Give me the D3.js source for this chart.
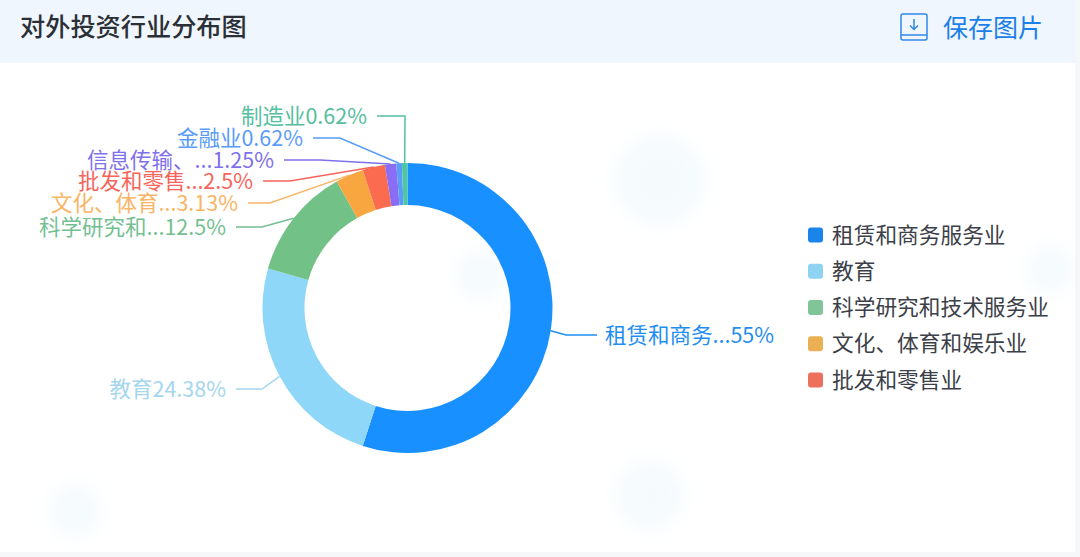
<!DOCTYPE html>
<html>
<head>
<meta charset="utf-8">
<script src="https://cdn.jsdelivr.net/npm/d3@7"></script>
<style>
  html, body { margin: 0; padding: 0; background: #fff; }
  svg { display: block; font-family: "Noto Sans CJK SC", "Noto Sans", sans-serif; }
</style>
</head>
<body>
<svg width="1080" height="557"></svg>
<script>
let categories = ["租赁和商务服务业", "教育", "科学研究和技术服务业", "文化、体育和娱乐业", "批发和零售业", "信息传输、软件和信息技术服务业", "金融业", "制造业"];
let shortNames = ["租赁和商务...", "教育", "科学研究和...", "文化、体育...", "批发和零售...", "信息传输、...", "金融业", "制造业"];
let values = [55, 24.38, 12.5, 3.13, 2.5, 1.25, 0.62, 0.62];
let valueLabels = ["55%", "24.38%", "12.5%", "3.13%", "2.5%", "1.25%", "0.62%", "0.62%"];
let legendNames = categories.slice(0, 5);

let colors = ["#1890ff", "#8fd7f8", "#72c287", "#f8a63f", "#fb6b50", "#8a6df5", "#5a9cf8", "#4fc8a2"];
let labelColors = ["#1f8ef0", "#a5d6ee", "#74bf92", "#f8b565", "#f7645a", "#7f70ec", "#5a9cf8", "#55bfa0"];
let legendColors = ["#1a84ea", "#8fd3f2", "#80c498", "#ecb054", "#ec705c"];

// where each leader line bends and ends, then the label next to it
let leaders = [
  { elbow: [566, 335], end: [597, 335] },
  { elbow: [262, 389], end: [236, 389] },
  { elbow: [262, 227], end: [236, 227] },
  { elbow: [270, 203], end: [248, 203] },
  { elbow: [290, 181], end: [263, 181] },
  { elbow: [320, 160], end: [284, 160] },
  { elbow: [340, 138], end: [313, 138] },
  { elbow: [405, 116], end: [377, 116] }
];

let svg = d3.select("svg");

let defs = svg.append("defs");
defs.append("filter").attr("id", "soft")
  .attr("x", "-50%").attr("y", "-50%").attr("width", "200%").attr("height", "200%")
  .append("feGaussianBlur").attr("stdDeviation", 10);

// faint background marks behind the chart
let blobs = svg.append("g").attr("fill", "#f5fafd").attr("filter", "url(#soft)");
blobs.append("circle").attr("cx", 660).attr("cy", 180).attr("r", 45);
blobs.append("circle").attr("cx", 480).attr("cy", 275).attr("r", 24);
blobs.append("circle").attr("cx", 1050).attr("cy", 270).attr("r", 24);
blobs.append("circle").attr("cx", 75).attr("cy", 510).attr("r", 26);
blobs.append("circle").attr("cx", 650).attr("cy", 495).attr("r", 34);

// header band
svg.append("rect").attr("width", 1075).attr("height", 63).attr("fill", "#f0f6fd");
svg.append("rect").attr("x", 1075).attr("width", 5).attr("height", 557).attr("fill", "#f6f7f9");
svg.append("rect").attr("y", 552).attr("width", 1080).attr("height", 5).attr("fill", "#f6f7f9");

svg.append("text").attr("x", 20).attr("y", 36)
  .attr("font-size", 25.2).attr("font-weight", 500).attr("fill", "#2b2f36")
  .text("对外投资行业分布图");

// save icon
let icon = svg.append("g").attr("fill", "none").attr("stroke", "#2f86ea").attr("stroke-width", 1.5);
icon.append("rect").attr("x", 901).attr("y", 14).attr("width", 26).attr("height", 26).attr("rx", 2);
icon.append("line").attr("x1", 901).attr("x2", 927).attr("y1", 35).attr("y2", 35);
icon.append("path").attr("d", "M914 19V29M910 25.5L914 29.5L918 25.5");
svg.append("text").attr("x", 943).attr("y", 37)
  .attr("font-size", 25).attr("fill", "#1b80e8").text("保存图片");

// donut
let cx = 407.5, cy = 308;
let pie = d3.pie().sort(null).value(d => d);
let arc = d3.arc().innerRadius(103).outerRadius(145);
let outer = d3.arc().innerRadius(145).outerRadius(145);
let arcs = pie(values);

let donut = svg.append("g").attr("transform", `translate(${cx},${cy})`);
donut.selectAll("path").data(arcs).enter().append("path")
  .attr("d", arc)
  .attr("fill", (d, i) => colors[i]);

// leader lines start on the outer edge of each slice
let line = d3.line();
svg.append("g").attr("fill", "none").attr("stroke-width", 1.5)
  .selectAll("path").data(arcs).enter().append("path")
  .attr("stroke", (d, i) => labelColors[i])
  .attr("d", function(d, i) {
    let c = outer.centroid(d);
    return line([[c[0] + cx, c[1] + cy], leaders[i].elbow, leaders[i].end]);
  });

svg.append("g").attr("font-size", 21.5)
  .selectAll("text").data(arcs).enter().append("text")
  .attr("x", (d, i) => i === 0 ? leaders[i].end[0] + 8 : leaders[i].end[0] - 10)
  .attr("y", (d, i) => leaders[i].end[1])
  .attr("dy", "0.35em")
  .attr("text-anchor", (d, i) => i === 0 ? "start" : "end")
  .attr("fill", (d, i) => labelColors[i])
  .text((d, i) => shortNames[i] + valueLabels[i]);

// legend
let legendY = d3.scalePoint().domain(legendNames).range([235, 380]);
let legend = svg.append("g").selectAll("g").data(legendNames).enter().append("g")
  .attr("transform", d => `translate(808,${legendY(d)})`);
legend.append("rect").attr("y", -7.5).attr("width", 15).attr("height", 15).attr("rx", 3)
  .attr("fill", (d, i) => legendColors[i]);
legend.append("text").attr("x", 24).attr("dy", "0.35em")
  .attr("font-size", 21.7).attr("fill", "#3c4048")
  .text(d => d);
</script>
</body>
</html>
